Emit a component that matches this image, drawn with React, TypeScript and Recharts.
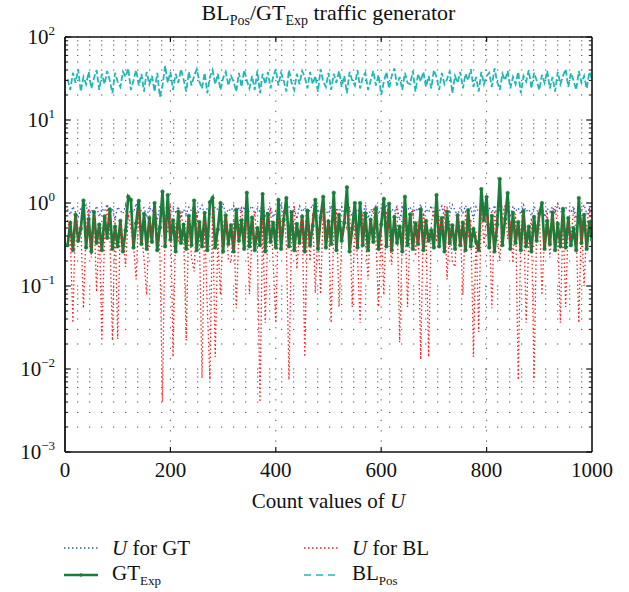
import React from "react";
import { LineChart, Line, XAxis, YAxis, ReferenceLine } from "recharts";

// samples are read every 5 counts (x = 5, 10, ..., 1000)
const xStep = 5;

const uForGT = [
  0.84, 0.72, 0.91, 0.78, 0.66, 0.88, 0.8, 0.95, 0.7, 0.83,
  0.76, 0.92, 0.68, 0.86, 0.79, 0.97, 0.73, 0.85, 0.64, 0.9,
  0.81, 0.74, 0.94, 0.69, 0.87, 0.77, 0.99, 0.71, 0.83, 0.88,
  0.67, 0.9, 0.79, 0.85, 0.62, 0.93, 0.75, 0.82, 0.96, 0.7,
  0.86, 0.78, 0.91, 0.66, 0.84, 0.73, 0.89, 0.8, 0.95, 0.69,
  0.82, 0.94, 0.72, 0.87, 0.77, 0.65, 0.9, 0.83, 0.75, 0.98,
  0.71, 0.85, 0.8, 0.93, 0.68, 0.88, 0.76, 0.91, 0.63, 0.84,
  0.92, 0.74, 0.86, 0.79, 0.97, 0.7, 0.83, 0.89, 0.67, 0.81,
  0.76, 0.95, 0.69, 0.84, 0.9, 0.73, 0.87, 0.64, 0.92, 0.78,
  0.88, 0.71, 0.83, 0.96, 0.75, 0.85, 0.68, 0.91, 0.8, 0.74,
  0.93, 0.66, 0.87, 0.79, 0.9, 0.72, 0.99, 0.82, 0.7, 0.86,
  0.77, 0.89, 0.74, 0.94, 0.65, 0.84, 0.79, 0.92, 0.73, 0.87,
  0.81, 0.96, 0.69, 0.85, 0.78, 0.91, 0.62, 0.88, 0.75, 0.83,
  0.9, 0.72, 0.86, 0.8, 0.97, 0.68, 0.84, 0.77, 0.93, 0.71,
  0.85, 0.79, 0.92, 0.66, 0.88, 0.74, 0.95, 0.82, 0.7, 0.89,
  0.76, 0.93, 0.81, 0.87, 0.64, 0.9, 0.78, 0.85, 0.98, 0.72,
  0.88, 0.75, 0.94, 0.69, 0.83, 0.91, 0.77, 0.86, 0.67, 0.92,
  0.8, 0.87, 0.73, 0.95, 0.79, 0.84, 0.7, 0.9, 0.82, 0.76,
  0.93, 0.68, 0.86, 0.78, 0.91, 0.74, 0.97, 0.81, 0.72, 0.88,
  0.84, 0.77, 0.92, 0.65, 0.89, 0.8, 0.95, 0.73, 0.86, 0.79,
];

const uForBL = [
  0.62, 0.41, 0.036, 0.78, 0.33, 0.55, 0.054, 0.47, 0.86, 0.22,
  0.71, 0.085, 0.52, 0.022, 0.38, 0.91, 0.44, 0.022, 0.67, 0.023,
  0.58, 0.36, 0.17, 0.74, 0.49, 0.31, 0.12, 0.83, 0.45, 0.21,
  0.078, 0.64, 0.39, 0.88, 0.52, 0.26, 0.004, 0.71, 0.43, 0.95,
  0.014, 0.57, 0.34, 0.81, 0.46, 0.022, 0.69, 0.22, 0.15, 0.77,
  0.42, 0.0078, 0.61, 0.056, 0.0074, 0.85, 0.014, 0.37, 0.078, 0.54,
  0.73, 0.21, 0.19, 0.66, 0.054, 0.48, 0.92, 0.35, 0.59, 0.08,
  0.44, 0.79, 0.31, 0.004, 0.63, 0.036, 0.51, 0.87, 0.19, 0.036,
  0.68, 0.4, 0.82, 0.33, 0.0074, 0.57, 0.94, 0.16, 0.45, 0.72,
  0.014, 0.61, 0.2, 0.76, 0.082, 0.5, 0.08, 0.89, 0.37, 0.65,
  0.036, 0.43, 0.84, 0.056, 0.32, 0.7, 0.47, 0.91, 0.056, 0.58,
  0.22, 0.036, 0.75, 0.41, 0.12, 0.63, 0.86, 0.35, 0.056, 0.52,
  0.078, 0.8, 0.46, 0.18, 0.67, 0.93, 0.021, 0.39, 0.72, 0.056,
  0.48, 0.85, 0.23, 0.6, 0.013, 0.77, 0.42, 0.014, 0.55, 0.88,
  0.34, 0.69, 0.44, 0.92, 0.12, 0.58, 0.2, 0.17, 0.74, 0.5,
  0.078, 0.83, 0.38, 0.64, 0.014, 0.47, 0.028, 0.9, 0.32, 0.71,
  0.56, 0.054, 0.81, 0.43, 0.2, 0.68, 0.95, 0.37, 0.6, 0.19,
  0.74, 0.0074, 0.49, 0.87, 0.036, 0.33, 0.66, 0.0076, 0.52, 0.84,
  0.078, 0.41, 0.79, 0.22, 0.63, 0.92, 0.46, 0.036, 0.71, 0.056,
  0.58, 0.35, 0.86, 0.44, 0.036, 0.67, 0.1, 0.53, 0.89, 0.39,
];

const gtExp = [
  0.31, 0.58, 0.27, 0.72, 0.35, 0.49, 1.07, 0.29, 0.64, 0.26,
  0.78, 0.33, 0.55, 0.27, 0.69, 0.38, 0.84, 0.28, 0.52, 0.3,
  0.61, 0.26, 0.47, 1.19, 1.09, 0.29, 0.57, 1.06, 0.32, 0.74,
  0.28, 0.66, 0.34, 1.0, 0.27, 0.51, 1.37, 0.3, 1.25, 0.36,
  0.62, 0.26, 0.79, 0.33, 0.55, 0.28, 0.7, 0.31, 1.07, 0.27,
  0.59, 0.3, 0.76, 0.27, 1.02, 1.15, 0.29, 0.48, 1.0, 0.26,
  0.71, 0.32, 0.54, 0.26, 0.83, 0.35, 0.62, 0.28, 1.33, 0.3,
  0.67, 0.27, 0.5, 0.31, 1.28, 0.26, 0.74, 0.34, 0.58, 0.29,
  1.09, 0.28, 0.63, 1.15, 0.3, 0.77, 0.27, 0.56, 0.33, 0.69,
  0.26, 0.81, 0.31, 0.53, 1.09, 0.28, 0.66, 1.19, 0.29, 0.6,
  0.32, 1.33, 0.27, 0.72, 0.35, 0.58, 1.55, 0.26, 0.49, 1.0,
  0.29, 1.0, 0.31, 0.75, 0.27, 0.63, 0.34, 0.86, 0.28, 0.55,
  1.12, 0.3, 0.98, 0.27, 0.68, 0.33, 0.52, 0.26, 1.19, 0.31,
  0.73, 0.28, 0.57, 0.32, 0.84, 0.27, 0.61, 0.35, 0.47, 0.29,
  1.25, 0.3, 0.66, 0.26, 0.79, 0.33, 0.54, 0.28, 0.71, 0.31,
  0.58, 0.27, 0.82, 0.3, 0.49, 0.34, 0.27, 1.47, 0.62, 1.18,
  0.29, 0.7, 0.26, 0.55, 1.95, 0.31, 0.64, 1.32, 0.28, 0.76,
  0.33, 0.59, 0.27, 0.8, 0.3, 0.52, 0.26, 0.68, 0.35, 0.74,
  1.0, 0.28, 0.61, 0.32, 0.77, 0.27, 0.56, 0.3, 0.85, 0.29,
  0.66, 0.31, 0.5, 0.27, 1.15, 0.33, 0.72, 0.28, 0.59, 0.36,
];

const blPos = [
  31, 23, 37, 28, 41, 22, 33, 27, 38, 24,
  32, 40, 23, 36, 27, 39, 30, 21, 37, 29,
  25, 38, 33, 42, 23, 30, 40, 26, 36, 22,
  38, 27, 34, 22, 37, 19, 26, 45, 28, 38,
  23, 36, 28, 41, 31, 22, 38, 26, 34, 41,
  29, 24, 37, 21, 33, 40, 27, 36, 23, 32,
  38, 26, 34, 29, 22, 37, 25, 40, 30, 24,
  34, 23, 39, 21, 36, 27, 38, 24, 33, 41,
  26, 37, 30, 22, 40, 28, 23, 36, 27, 39,
  33, 24, 38, 27, 34, 22, 41, 29, 25, 37,
  23, 36, 28, 39, 25, 34, 21, 38, 30, 26,
  40, 24, 33, 37, 23, 30, 39, 26, 35, 20,
  29, 38, 24, 34, 42, 26, 33, 23, 37, 28,
  27, 39, 22, 36, 29, 38, 25, 34, 24, 40,
  33, 23, 37, 27, 31, 39, 21, 34, 28, 38,
  24, 36, 30, 41, 25, 33, 22, 38, 27, 34,
  37, 25, 42, 29, 23, 36, 30, 39, 24, 33,
  27, 38, 21, 34, 29, 40, 24, 37, 30, 23,
  35, 28, 39, 24, 33, 22, 38, 27, 34, 41,
  25, 37, 30, 23, 39, 28, 34, 24, 38, 31,
];

const xTicks = [0, 200, 400, 600, 800, 1000];
const yTicks = [0.001, 0.01, 0.1, 1, 10, 100];
const minorSteps = [2, 3, 4, 5, 6, 7, 8, 9];

const BLUE = "#3a55c4";
const RED = "#f02424";
const GREEN = "#1b7d3a";
const CYAN = "#22b6b6";
const FONT = '"Liberation Serif", "DejaVu Serif", serif';

const data = uForGT.map((v, i) => ({
  x: (i + 1) * xStep,
  uGT: v,
  uBL: uForBL[i],
  gt: gtExp[i],
  bl: blPos[i],
}));

const minorValues = yTicks
  .slice(0, -1)
  .flatMap((d) => minorSteps.map((m) => Number((d * m).toPrecision(2))));

const YTick = ({ x, y, payload }: any) => {
  const exp = Math.round(Math.log10(payload.value));
  return (
    <text x={x - 2} y={y + 7} textAnchor="end" fontFamily={FONT} fontSize={21} fill="#111">
      10
      <tspan dy={-9} fontSize={13}>
        {exp < 0 ? `\u2212${-exp}` : exp}
      </tspan>
    </text>
  );
};

const XTick = ({ x, y, payload }: any) => (
  <text x={x} y={y + 17} textAnchor="middle" fontFamily={FONT} fontSize={21} fill="#111">
    {payload.value}
  </text>
);

const LegendItem = ({ left, top, label, kind }: any) => {
  let sample = null;
  if (kind === "uGT")
    sample = <line x1={0} y1={5} x2={34} y2={5} stroke={BLUE} strokeWidth={1.3} strokeDasharray="1.5 2.5" />;
  if (kind === "uBL")
    sample = <line x1={0} y1={5} x2={36} y2={5} stroke={RED} strokeWidth={1.3} strokeDasharray="1.5 2.5" />;
  if (kind === "gt")
    sample = (
      <g>
        <line x1={0} y1={5} x2={34} y2={5} stroke={GREEN} strokeWidth={2.4} />
        <circle cx={17} cy={5} r={1.8} fill={GREEN} />
      </g>
    );
  if (kind === "bl")
    sample = <line x1={0} y1={5} x2={36} y2={5} stroke={CYAN} strokeWidth={1.6} strokeDasharray="7 5" />;
  return (
    <div style={{ position: "absolute", left, top, height: 24, display: "flex", alignItems: "center" }}>
      <svg width={40} height={10} style={{ marginRight: 8 }}>
        {sample}
      </svg>
      <span style={{ fontSize: 21, fontFamily: FONT, color: "#111", whiteSpace: "nowrap" }}>{label}</span>
    </div>
  );
};

export default function App() {
  return (
    <div style={{ position: "absolute", left: 0, top: 0, width: 629, height: 592, background: "#fff" }}>
      <div
        style={{
          position: "absolute",
          left: 0,
          width: 657,
          top: 0,
          textAlign: "center",
          fontFamily: FONT,
          fontSize: 22,
          color: "#111",
        }}
      >
        BL<sub style={{ fontSize: 14 }}>Pos</sub>/GT<sub style={{ fontSize: 14 }}>Exp</sub> traffic generator
      </div>

      <LineChart width={629} height={592} data={data} margin={{ top: 37, right: 37, left: 5, bottom: 110 }}>
        <XAxis
          dataKey="x"
          type="number"
          domain={[0, 1000]}
          ticks={xTicks}
          tick={<XTick />}
          tickLine={false}
          axisLine={{ stroke: "#111", strokeWidth: 1.6 }}
          height={30}
          allowDataOverflow
        />
        <YAxis
          type="number"
          scale="log"
          domain={[0.001, 100]}
          ticks={yTicks}
          tick={<YTick />}
          tickLine={false}
          axisLine={{ stroke: "#111", strokeWidth: 1.8 }}
          width={60}
          allowDataOverflow
        />

        {/* dotted grid */}
        {[...minorValues, ...yTicks.slice(1)].map((v) => (
          <ReferenceLine key={`hg-${v}`} y={v} stroke="#555" strokeWidth={1} strokeDasharray="1.3 10.7" />
        ))}
        {xTicks.slice(1, -1).map((v) => (
          <ReferenceLine key={`vg-${v}`} x={v} stroke="#555" strokeWidth={1} strokeDasharray="1.3 9" />
        ))}

        <Line dataKey="uGT" type="linear" stroke={BLUE} strokeWidth={1.3} strokeDasharray="1.5 2.5" dot={false} isAnimationActive={false} />
        <Line
          dataKey="gt"
          type="linear"
          stroke={GREEN}
          strokeWidth={2.7}
          dot={{ r: 1.8, fill: GREEN, stroke: GREEN, strokeWidth: 0.5 }}
          isAnimationActive={false}
        />
        <Line dataKey="uBL" type="linear" stroke={RED} strokeWidth={1.3} strokeDasharray="1.5 2.5" dot={false} isAnimationActive={false} />
        <Line dataKey="bl" type="linear" stroke={CYAN} strokeWidth={1.8} strokeDasharray="6 2.5" dot={false} isAnimationActive={false} />

        {/* frame */}
        <ReferenceLine y={100} stroke="#111" strokeWidth={1.6} />
        <ReferenceLine x={1000} stroke="#111" strokeWidth={1.6} />

        {/* inward ticks */}
        {minorValues.map((v) => (
          <ReferenceLine key={`lt-${v}`} segment={[{ x: 0, y: v }, { x: 6, y: v }]} stroke="#111" strokeWidth={1} />
        ))}
        {minorValues.map((v) => (
          <ReferenceLine key={`rt-${v}`} segment={[{ x: 994, y: v }, { x: 1000, y: v }]} stroke="#111" strokeWidth={1} />
        ))}
        {yTicks.map((v) => (
          <ReferenceLine key={`lM-${v}`} segment={[{ x: 0, y: v }, { x: 11, y: v }]} stroke="#111" strokeWidth={1.2} />
        ))}
        {yTicks.map((v) => (
          <ReferenceLine key={`rM-${v}`} segment={[{ x: 989, y: v }, { x: 1000, y: v }]} stroke="#111" strokeWidth={1.2} />
        ))}
        {xTicks.slice(1, -1).map((v) => (
          <ReferenceLine key={`bt-${v}`} segment={[{ x: v, y: 0.001 }, { x: v, y: 0.00115 }]} stroke="#111" strokeWidth={1.2} />
        ))}
        {xTicks.slice(1, -1).map((v) => (
          <ReferenceLine key={`tt-${v}`} segment={[{ x: v, y: 87 }, { x: v, y: 100 }]} stroke="#111" strokeWidth={1.2} />
        ))}
      </LineChart>

      <div
        style={{
          position: "absolute",
          left: 0,
          width: 657,
          top: 489,
          textAlign: "center",
          fontFamily: FONT,
          fontSize: 21,
          color: "#111",
        }}
      >
        Count values of <i>U</i>
      </div>

      <LegendItem left={64} top={536} kind="uGT" label={<><i>U</i> for GT</>} />
      <LegendItem left={304} top={536} kind="uBL" label={<><i>U</i> for BL</>} />
      <LegendItem
        left={64}
        top={563}
        kind="gt"
        label={<>GT<sub style={{ fontSize: 13 }}>Exp</sub></>}
      />
      <LegendItem
        left={304}
        top={563}
        kind="bl"
        label={<>BL<sub style={{ fontSize: 13 }}>Pos</sub></>}
      />
    </div>
  );
}
